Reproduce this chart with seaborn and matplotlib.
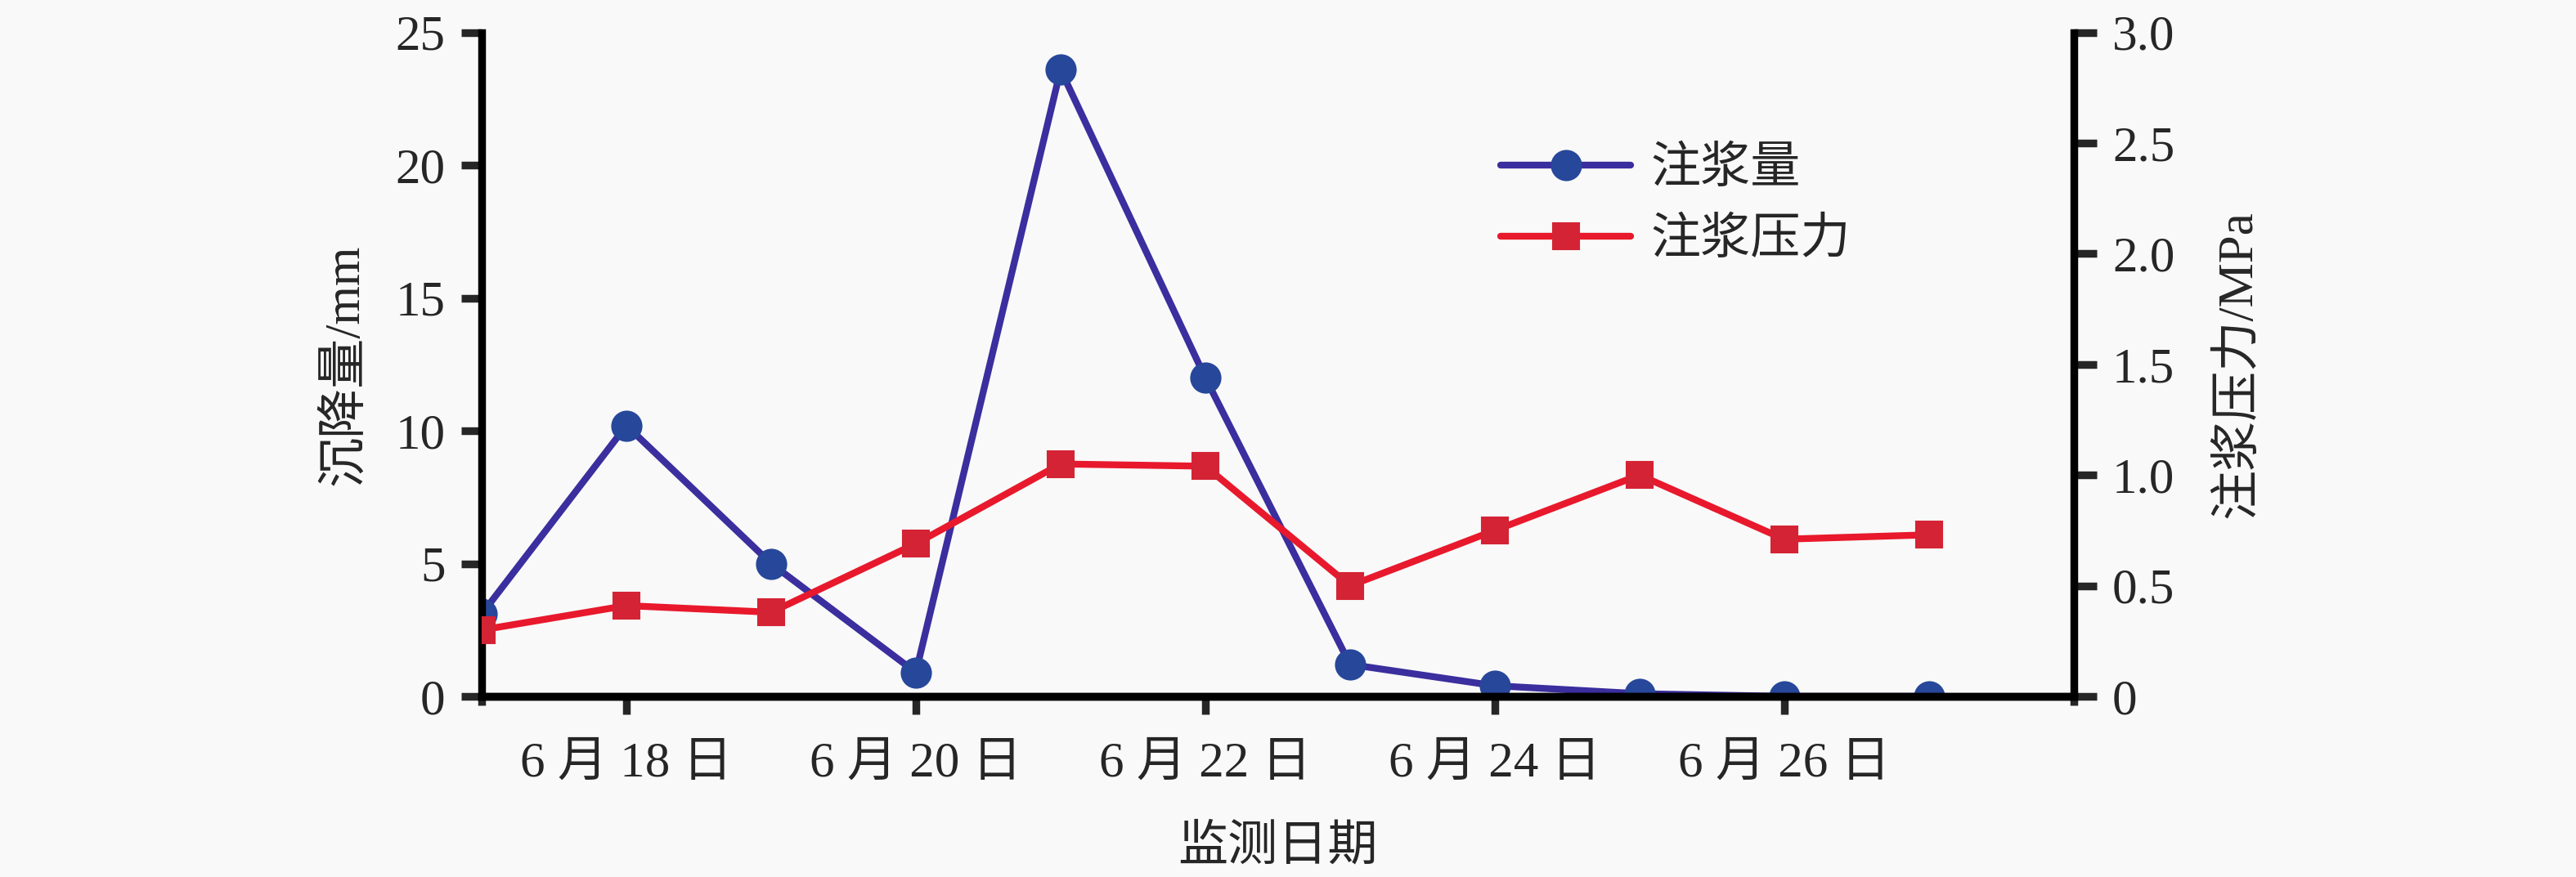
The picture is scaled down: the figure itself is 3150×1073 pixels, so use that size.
import matplotlib
matplotlib.use("Agg")
import matplotlib.pyplot as plt
import matplotlib.ticker as mticker
import seaborn as sns
import pandas as pd

# monitoring days (June)
days = [17, 18, 19, 20, 21, 22, 23, 24, 25, 26, 27]
settlement = [3.1, 10.2, 5.0, 0.9, 23.6, 12.0, 1.2, 0.4, 0.1, 0.0, 0.0]   # mm
pressure = [0.30, 0.41, 0.38, 0.69, 1.05, 1.04, 0.50, 0.75, 1.00, 0.71, 0.73]  # MPa
tick_days = [18, 20, 22, 24, 26]
tick_labels = ["6 月 18 日", "6 月 20 日", "6 月 22 日", "6 月 24 日", "6 月 26 日"]

df = pd.DataFrame({"day": days, "settlement": settlement, "pressure": pressure})

sns.set_style("ticks")
plt.rcParams["font.family"] = ["Liberation Serif", "Noto Sans CJK SC"]
plt.rcParams["axes.unicode_minus"] = False

bg = "#f9f9f9"
fs = 22
fig = plt.figure(figsize=(15.75, 5.365), dpi=200, facecolor=bg)
ax = fig.add_axes([0.187, 0.206, 0.618, 0.757], facecolor=bg)
ax2 = ax.twinx()

sns.lineplot(data=df, x="day", y="settlement", ax=ax, color="#3b2e9e", lw=3.0,
             marker="o", markersize=13, markerfacecolor="#27479a",
             markeredgecolor="#27479a", label="注浆量", legend=False)
sns.lineplot(data=df, x="day", y="pressure", ax=ax2, color="#e8192c", lw=3.0,
             marker="s", markersize=11.5, markerfacecolor="#d42334",
             markeredgecolor="#d42334", label="注浆压力", legend=False)

ax.set_xlim(17, 28)
ax.set_ylim(0, 25)
ax2.set_ylim(0, 3.0)

ax.set_xticks(tick_days)
ax.set_xticklabels(tick_labels)
ax.set_xticks([17, 28], minor=True)
ax.set_yticks([0, 5, 10, 15, 20, 25])
ax2.set_yticks([0, 0.5, 1.0, 1.5, 2.0, 2.5, 3.0])
ax2.yaxis.set_major_formatter(mticker.FuncFormatter(lambda v, p: "0" if v == 0 else f"{v:.1f}"))

for a in (ax, ax2):
    for s in a.spines.values():
        s.set_linewidth(3.4)
        s.set_color("black")
    a.spines["top"].set_visible(False)
ax.spines["right"].set_visible(False)
ax2.spines["left"].set_visible(False)

ax.tick_params(axis="x", which="major", length=8, width=3.4, pad=12, labelsize=fs)
ax.tick_params(axis="x", which="minor", length=4, width=3.4)
ax.tick_params(axis="y", length=9, width=3.4, pad=7, labelsize=fs)
ax2.tick_params(axis="y", length=10, width=3.4, pad=7, labelsize=fs)

ax.set_xlabel("监测日期", fontsize=fs, labelpad=17)
ax.set_ylabel("沉降量/mm", fontsize=fs, labelpad=12)
ax2.set_ylabel("注浆压力/MPa", fontsize=fs, labelpad=18)

h1, l1 = ax.get_legend_handles_labels()
h2, l2 = ax2.get_legend_handles_labels()
ax2.legend(h1 + h2, l1 + l2, loc="upper left", bbox_to_anchor=(0.612, 0.895),
           frameon=False, fontsize=fs, handlelength=2.6, labelspacing=0.5,
           handletextpad=0.4)

fig.savefig("out.png", dpi=200, facecolor=bg)
